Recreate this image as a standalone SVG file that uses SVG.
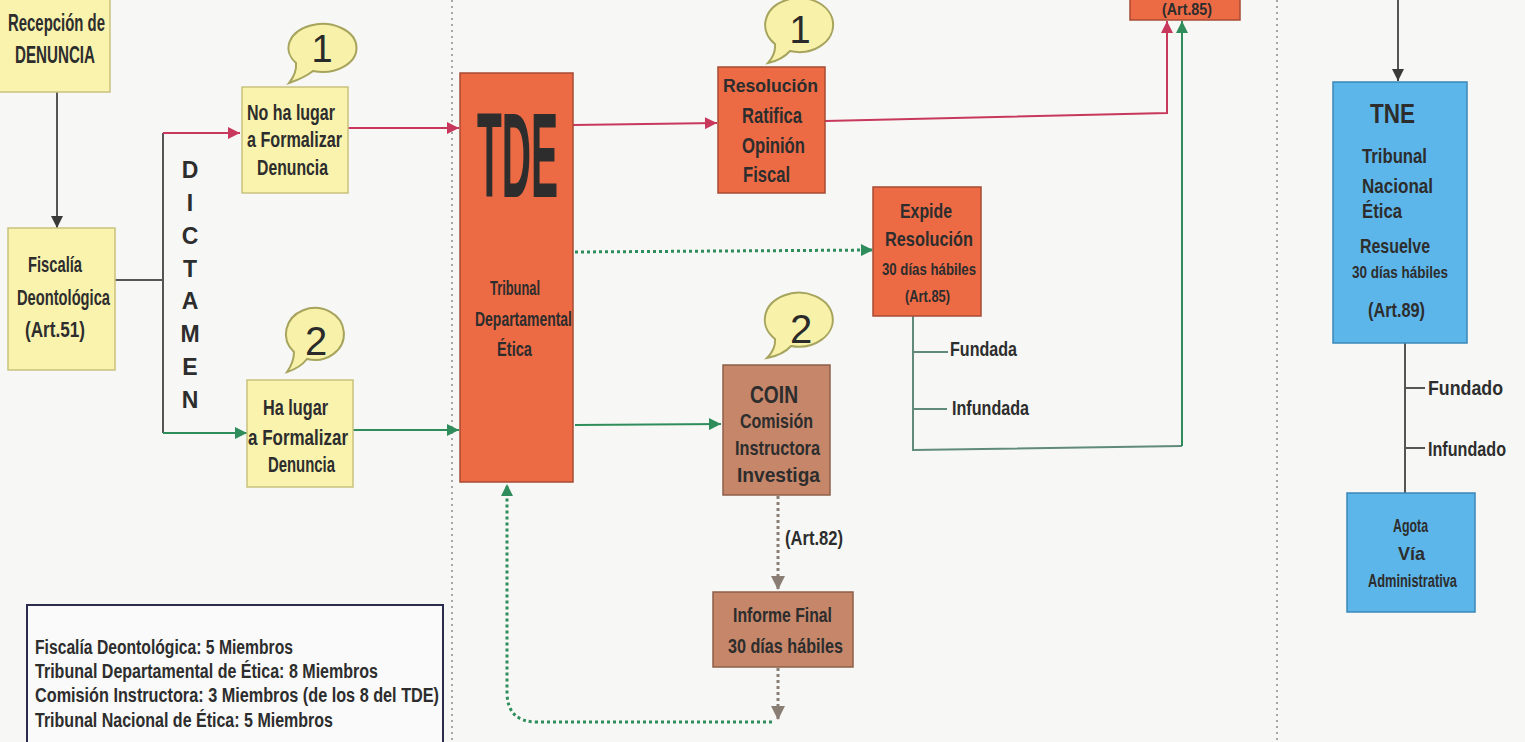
<svg xmlns="http://www.w3.org/2000/svg" width="1525" height="742" viewBox="0 0 1525 742">
<style>
.t{font-family:"Liberation Sans",Arial,sans-serif;font-weight:bold;fill:#2d2d2d;}
.n{font-family:"Liberation Sans",Arial,sans-serif;fill:#2a2a2a;}
.yb{fill:#f9f3ae;stroke:#c9c27e;stroke-width:1.5;}
.ob{fill:#ec6b45;stroke:#a84a33;stroke-width:1.5;}
.bb{fill:#c5866a;stroke:#8e5e48;stroke-width:1.5;}
.lb{fill:#5db6ea;stroke:#3b87b8;stroke-width:1.5;}
.bub{fill:#f8f1a9;stroke:#a7a45e;stroke-width:2;}
.red{fill:none;stroke:#c8385c;stroke-width:2;}
.grn{fill:none;stroke:#2f8d5c;stroke-width:2;}
.gdot{fill:none;stroke:#2f8d5c;stroke-width:3;stroke-dasharray:3 3;}
.gray{fill:none;stroke:#555;stroke-width:2;}
.gydot{fill:none;stroke:#8a7d74;stroke-width:3;stroke-dasharray:3 3;}
.teal{fill:none;stroke:#5f8a7c;stroke-width:2;}
.sep{fill:none;stroke:#8a8a8a;stroke-width:1.5;stroke-dasharray:2 4;}
</style>
<defs>
<marker id="aRed" viewBox="0 0 10 10" refX="10" refY="5" markerWidth="13" markerHeight="12" markerUnits="userSpaceOnUse" orient="auto"><path d="M0,0 L10,5 L0,10 z" fill="#c8385c"/></marker>
<marker id="aGrn" viewBox="0 0 10 10" refX="10" refY="5" markerWidth="13" markerHeight="12" markerUnits="userSpaceOnUse" orient="auto"><path d="M0,0 L10,5 L0,10 z" fill="#2f8d5c"/></marker>
<marker id="aGray" viewBox="0 0 10 10" refX="10" refY="5" markerWidth="13" markerHeight="12" markerUnits="userSpaceOnUse" orient="auto"><path d="M0,0 L10,5 L0,10 z" fill="#3a3a3a"/></marker>
<marker id="aTan" viewBox="0 0 10 10" refX="10" refY="5" markerWidth="15" markerHeight="14" markerUnits="userSpaceOnUse" orient="auto"><path d="M0,0 L10,5 L0,10 z" fill="#8a7d74"/></marker>
</defs>
<rect x="0" y="0" width="1525" height="742" fill="#f7f8f5"/>
<line class="sep" x1="452" y1="0" x2="452" y2="742"/>
<line class="sep" x1="1277" y1="0" x2="1277" y2="742"/>

<g id="connectors">
<line class="gray" x1="57" y1="92" x2="57" y2="228" marker-end="url(#aGray)"/>
<polyline class="gray" points="115,280 163,280"/>
<line class="gray" x1="163" y1="133" x2="163" y2="433"/>
<line class="red" x1="163" y1="133" x2="240" y2="133" marker-end="url(#aRed)"/>
<line class="grn" x1="163" y1="433" x2="247" y2="433" marker-end="url(#aGrn)"/>
<line class="red" x1="348" y1="128" x2="459" y2="128" marker-end="url(#aRed)"/>
<line class="grn" x1="353" y1="430" x2="459" y2="430" marker-end="url(#aGrn)"/>
<line class="red" x1="573" y1="125" x2="717" y2="123" marker-end="url(#aRed)"/>
<polyline class="red" points="825,121 1167,113 1167,21" marker-end="url(#aRed)"/>
<line class="gdot" x1="575" y1="252" x2="873" y2="250" marker-end="url(#aGrn)"/>
<line class="grn" x1="575" y1="425" x2="721" y2="424" marker-end="url(#aGrn)"/>
<polyline class="teal" points="913,316 913,450 1182,446"/>
<line class="grn" x1="1182" y1="446" x2="1182" y2="21" marker-end="url(#aGrn)"/>
<line class="teal" x1="913" y1="352" x2="948" y2="352"/>
<line class="teal" x1="913" y1="409" x2="947" y2="409"/>
<line class="gydot" x1="778" y1="496" x2="778" y2="590" marker-end="url(#aTan)"/>
<line class="gydot" x1="778" y1="668" x2="778" y2="720" marker-end="url(#aTan)"/>
<path class="gdot" d="M772,722 L537,722 Q507,722 507,692 L507,484" marker-end="url(#aGrn)"/>
<line class="gray" x1="1398" y1="0" x2="1398" y2="81" marker-end="url(#aGray)"/>
<line class="gray" x1="1405" y1="343" x2="1405" y2="493"/>
<line class="gray" x1="1405" y1="388" x2="1425" y2="388"/>
<line class="gray" x1="1405" y1="448" x2="1425" y2="448"/>
</g>

<g id="recepcion">
<rect class="yb" x="-4" y="-6" width="114" height="98"/>
<text class="t" x="8" y="31" font-size="23" textLength="97" lengthAdjust="spacingAndGlyphs">Recepción de</text>
<text class="t" x="15" y="63" font-size="23" textLength="80" lengthAdjust="spacingAndGlyphs">DENUNCIA</text>
</g>

<g id="fiscalia">
<rect class="yb" x="8" y="228" width="107" height="142"/>
<text class="t" x="28" y="272" font-size="22" textLength="54" lengthAdjust="spacingAndGlyphs">Fiscalía</text>
<text class="t" x="17" y="305" font-size="22" textLength="93" lengthAdjust="spacingAndGlyphs">Deontológica</text>
<text class="t" x="25" y="337" font-size="22" textLength="60" lengthAdjust="spacingAndGlyphs">(Art.51)</text>
</g>

<g id="dictamen">
<text class="t" font-size="23" text-anchor="middle">
<tspan x="190" y="178">D</tspan><tspan x="190" y="211">I</tspan><tspan x="190" y="244">C</tspan><tspan x="190" y="277">T</tspan><tspan x="190" y="309">A</tspan><tspan x="190" y="342">M</tspan><tspan x="190" y="375">E</tspan><tspan x="190" y="408">N</tspan>
</text>
</g>

<g id="bubble1a">
<path class="bub" d="M313,71 Q304,78 289,83 Q297,73 296,63 A34 24 0 1 1 313,71 Z"/>
<text class="n" x="322" y="62" font-size="38" text-anchor="middle">1</text>
</g>

<g id="nohalugar">
<rect class="yb" x="242" y="87" width="106" height="106"/>
<text class="t" x="247" y="120" font-size="22" textLength="88" lengthAdjust="spacingAndGlyphs">No ha lugar</text>
<text class="t" x="247" y="147" font-size="22" textLength="95" lengthAdjust="spacingAndGlyphs">a Formalizar</text>
<text class="t" x="257" y="175" font-size="22" textLength="71" lengthAdjust="spacingAndGlyphs">Denuncia</text>
</g>

<g id="bubble2a">
<path class="bub" d="M307,359 Q300,368 287,372 Q294,362 294,352 A29 26 0 1 1 307,359 Z"/>
<text class="n" x="316" y="355" font-size="40" text-anchor="middle">2</text>
</g>

<g id="halugar">
<rect class="yb" x="247" y="380" width="106" height="107"/>
<text class="t" x="263" y="415" font-size="22" textLength="65" lengthAdjust="spacingAndGlyphs">Ha lugar</text>
<text class="t" x="248" y="445" font-size="22" textLength="100" lengthAdjust="spacingAndGlyphs">a Formalizar</text>
<text class="t" x="268" y="472" font-size="22" textLength="67" lengthAdjust="spacingAndGlyphs">Denuncia</text>
</g>

<g id="tde">
<rect class="ob" x="460" y="73" width="113" height="409"/>
<text class="t" x="477" y="197" font-size="120" textLength="81" lengthAdjust="spacingAndGlyphs">TDE</text>
<text class="t" x="490" y="295" font-size="21" textLength="50" lengthAdjust="spacingAndGlyphs">Tribunal</text>
<text class="t" x="475" y="326" font-size="21" textLength="97" lengthAdjust="spacingAndGlyphs">Departamental</text>
<text class="t" x="497" y="356" font-size="21" textLength="35" lengthAdjust="spacingAndGlyphs">Ética</text>
</g>

<g id="bubble1b">
<path class="bub" d="M790,51 Q782,60 768,63 Q776,54 775,44 A34 27 0 1 1 790,51 Z"/>
<text class="n" x="800" y="43" font-size="38" text-anchor="middle">1</text>
</g>

<g id="resolucion">
<rect class="ob" x="718" y="67" width="107" height="126"/>
<text class="t" x="723" y="92" font-size="18" textLength="95" lengthAdjust="spacingAndGlyphs">Resolución</text>
<text class="t" x="742" y="123" font-size="22" textLength="60" lengthAdjust="spacingAndGlyphs">Ratifica</text>
<text class="t" x="742" y="153" font-size="22" textLength="63" lengthAdjust="spacingAndGlyphs">Opinión</text>
<text class="t" x="743" y="182" font-size="22" textLength="47" lengthAdjust="spacingAndGlyphs">Fiscal</text>
</g>

<g id="art85top">
<rect class="ob" x="1130" y="-10" width="110" height="30"/>
<text class="t" x="1162" y="15" font-size="16" textLength="50" lengthAdjust="spacingAndGlyphs">(Art.85)</text>
</g>

<g id="expide">
<rect class="ob" x="873" y="187" width="108" height="129"/>
<text class="t" x="900" y="218" font-size="21" textLength="52" lengthAdjust="spacingAndGlyphs">Expide</text>
<text class="t" x="885" y="246" font-size="21" textLength="88" lengthAdjust="spacingAndGlyphs">Resolución</text>
<text class="t" x="882" y="275" font-size="17" textLength="94" lengthAdjust="spacingAndGlyphs">30 días hábiles</text>
<text class="t" x="905" y="302" font-size="17" textLength="45" lengthAdjust="spacingAndGlyphs">(Art.85)</text>
</g>

<g id="fundada">
<text class="t" x="950" y="356" font-size="21" textLength="67" lengthAdjust="spacingAndGlyphs">Fundada</text>
<text class="t" x="952" y="415" font-size="21" textLength="77" lengthAdjust="spacingAndGlyphs">Infundada</text>
</g>

<g id="bubble2b">
<path class="bub" d="M791,346 Q783,355 767,358 Q776,349 775,339 A34 27 0 1 1 791,346 Z"/>
<text class="n" x="801" y="343" font-size="40" text-anchor="middle">2</text>
</g>

<g id="coin">
<rect class="bb" x="723" y="365" width="107" height="130"/>
<text class="t" x="750" y="403" font-size="23" textLength="48" lengthAdjust="spacingAndGlyphs">COIN</text>
<text class="t" x="740" y="428" font-size="21" textLength="73" lengthAdjust="spacingAndGlyphs">Comisión</text>
<text class="t" x="735" y="455" font-size="21" textLength="85" lengthAdjust="spacingAndGlyphs">Instructora</text>
<text class="t" x="737" y="482" font-size="21" textLength="83" lengthAdjust="spacingAndGlyphs">Investiga</text>
</g>

<g id="art82">
<text class="t" x="785" y="545" font-size="21" textLength="58" lengthAdjust="spacingAndGlyphs">(Art.82)</text>
</g>

<g id="informe">
<rect class="bb" x="713" y="592" width="140" height="75"/>
<text class="t" x="733" y="622" font-size="21" textLength="99" lengthAdjust="spacingAndGlyphs">Informe Final</text>
<text class="t" x="728" y="653" font-size="21" textLength="115" lengthAdjust="spacingAndGlyphs">30 días hábiles</text>
</g>

<g id="tne">
<rect class="lb" x="1333" y="82" width="134" height="261"/>
<text class="t" x="1370" y="123" font-size="28" textLength="45" lengthAdjust="spacingAndGlyphs">TNE</text>
<text class="t" x="1362" y="163" font-size="21" textLength="65" lengthAdjust="spacingAndGlyphs">Tribunal</text>
<text class="t" x="1362" y="193" font-size="21" textLength="71" lengthAdjust="spacingAndGlyphs">Nacional</text>
<text class="t" x="1362" y="218" font-size="21" textLength="40" lengthAdjust="spacingAndGlyphs">Ética</text>
<text class="t" x="1360" y="253" font-size="21" textLength="70" lengthAdjust="spacingAndGlyphs">Resuelve</text>
<text class="t" x="1352" y="278" font-size="16" textLength="96" lengthAdjust="spacingAndGlyphs">30 días hábiles</text>
<text class="t" x="1368" y="317" font-size="21" textLength="57" lengthAdjust="spacingAndGlyphs">(Art.89)</text>
</g>

<g id="fundado">
<text class="t" x="1428" y="395" font-size="21" textLength="75" lengthAdjust="spacingAndGlyphs">Fundado</text>
<text class="t" x="1428" y="456" font-size="21" textLength="78" lengthAdjust="spacingAndGlyphs">Infundado</text>
</g>

<g id="agota">
<rect class="lb" x="1347" y="493" width="128" height="119"/>
<text class="t" x="1393" y="532" font-size="19" textLength="35" lengthAdjust="spacingAndGlyphs">Agota</text>
<text class="t" x="1398" y="560" font-size="19" textLength="27" lengthAdjust="spacingAndGlyphs">Vía</text>
<text class="t" x="1368" y="587" font-size="19" textLength="89" lengthAdjust="spacingAndGlyphs">Administrativa</text>
</g>

<g id="legend">
<rect x="27" y="605" width="416" height="150" fill="#fafafa" stroke="#2b2b4b" stroke-width="2"/>
<text class="t" x="35" y="654" font-size="20" textLength="258" lengthAdjust="spacingAndGlyphs">Fiscalía Deontológica: 5 Miembros</text>
<text class="t" x="35" y="678" font-size="20" textLength="343" lengthAdjust="spacingAndGlyphs">Tribunal Departamental de Ética: 8 Miembros</text>
<text class="t" x="35" y="702" font-size="20" textLength="404" lengthAdjust="spacingAndGlyphs">Comisión Instructora: 3 Miembros (de los 8 del TDE)</text>
<text class="t" x="35" y="727" font-size="20" textLength="298" lengthAdjust="spacingAndGlyphs">Tribunal Nacional de Ética: 5 Miembros</text>
</g>
</svg>
